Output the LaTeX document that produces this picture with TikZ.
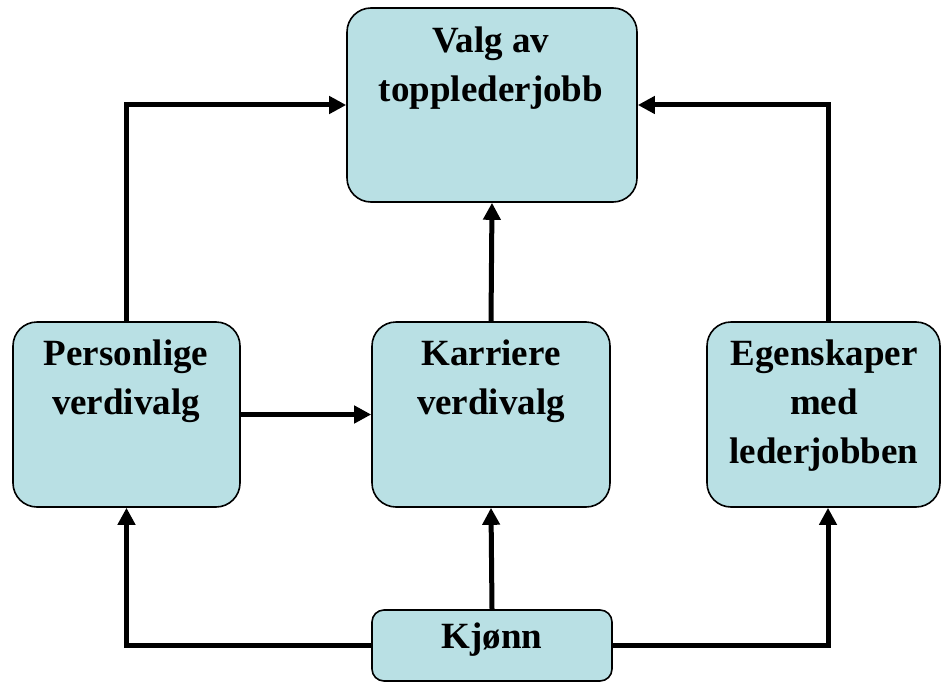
\documentclass[tikz,border=0pt]{standalone}
\usepackage{fontspec}
\setmainfont{Liberation Serif}
\usetikzlibrary{arrows.meta,calc}
\definecolor{boxfill}{RGB}{185,224,228}
\begin{document}
\begin{tikzpicture}[x=1pt,y=-1pt,
  box/.style={draw=black, line width=1.6pt, fill=boxfill, rounded corners=24pt, inner sep=0pt},
  lbl/.style={font=\fontsize{37}{49}\selectfont\bfseries, align=center, inner sep=0pt, anchor=base},
  link/.style={line width=5pt, line join=miter, -{Triangle[length=17pt,width=17pt]}}]
\useasboundingbox (0,0) rectangle (941,682);

% boxes
\node[box, minimum width=290pt, minimum height=194pt] (top) at (492,105) {};
\node[box, minimum width=227pt, minimum height=185pt] (pers) at (126.5,414.5) {};
\node[box, minimum width=238pt, minimum height=185pt] (kar) at (491,414.5) {};
\node[box, minimum width=233pt, minimum height=185pt] (eg) at (823.5,414.5) {};
\node[box, rounded corners=12pt, minimum width=240pt, minimum height=71pt] (kj) at (492,645.5) {};

% labels (placed by the baseline of their last line)
\node[lbl] (ttop) at (491,102) {Valg av\\topplederjobb};
\node[lbl] (tpers) at (126,414) {Personlige\\verdivalg};
\node[lbl] (tkar) at (491,414) {Karriere\\verdivalg};
\node[lbl] (teg) at (824,463) {Egenskaper\\med\\lederjobben};
\node[lbl] (tkj) at (492,648) {Kjønn};

% connectors
\coordinate (egN) at ($(eg.north)+(4.5,0)$);
\coordinate (egS) at ($(eg.south)+(4.5,0)$);
\draw[link] (pers.north) |- (top.west);
\draw[link] (egN) |- (top.east);
\draw[link] (kar.north) -- (top.south);
\draw[link] (pers.east) -- (kar.west);
\draw[link] (kj.north) -- (kar.south);
\draw[link] (kj.west) -| (pers.south);
\draw[link] (kj.east) -| (egS);
\end{tikzpicture}
\end{document}
